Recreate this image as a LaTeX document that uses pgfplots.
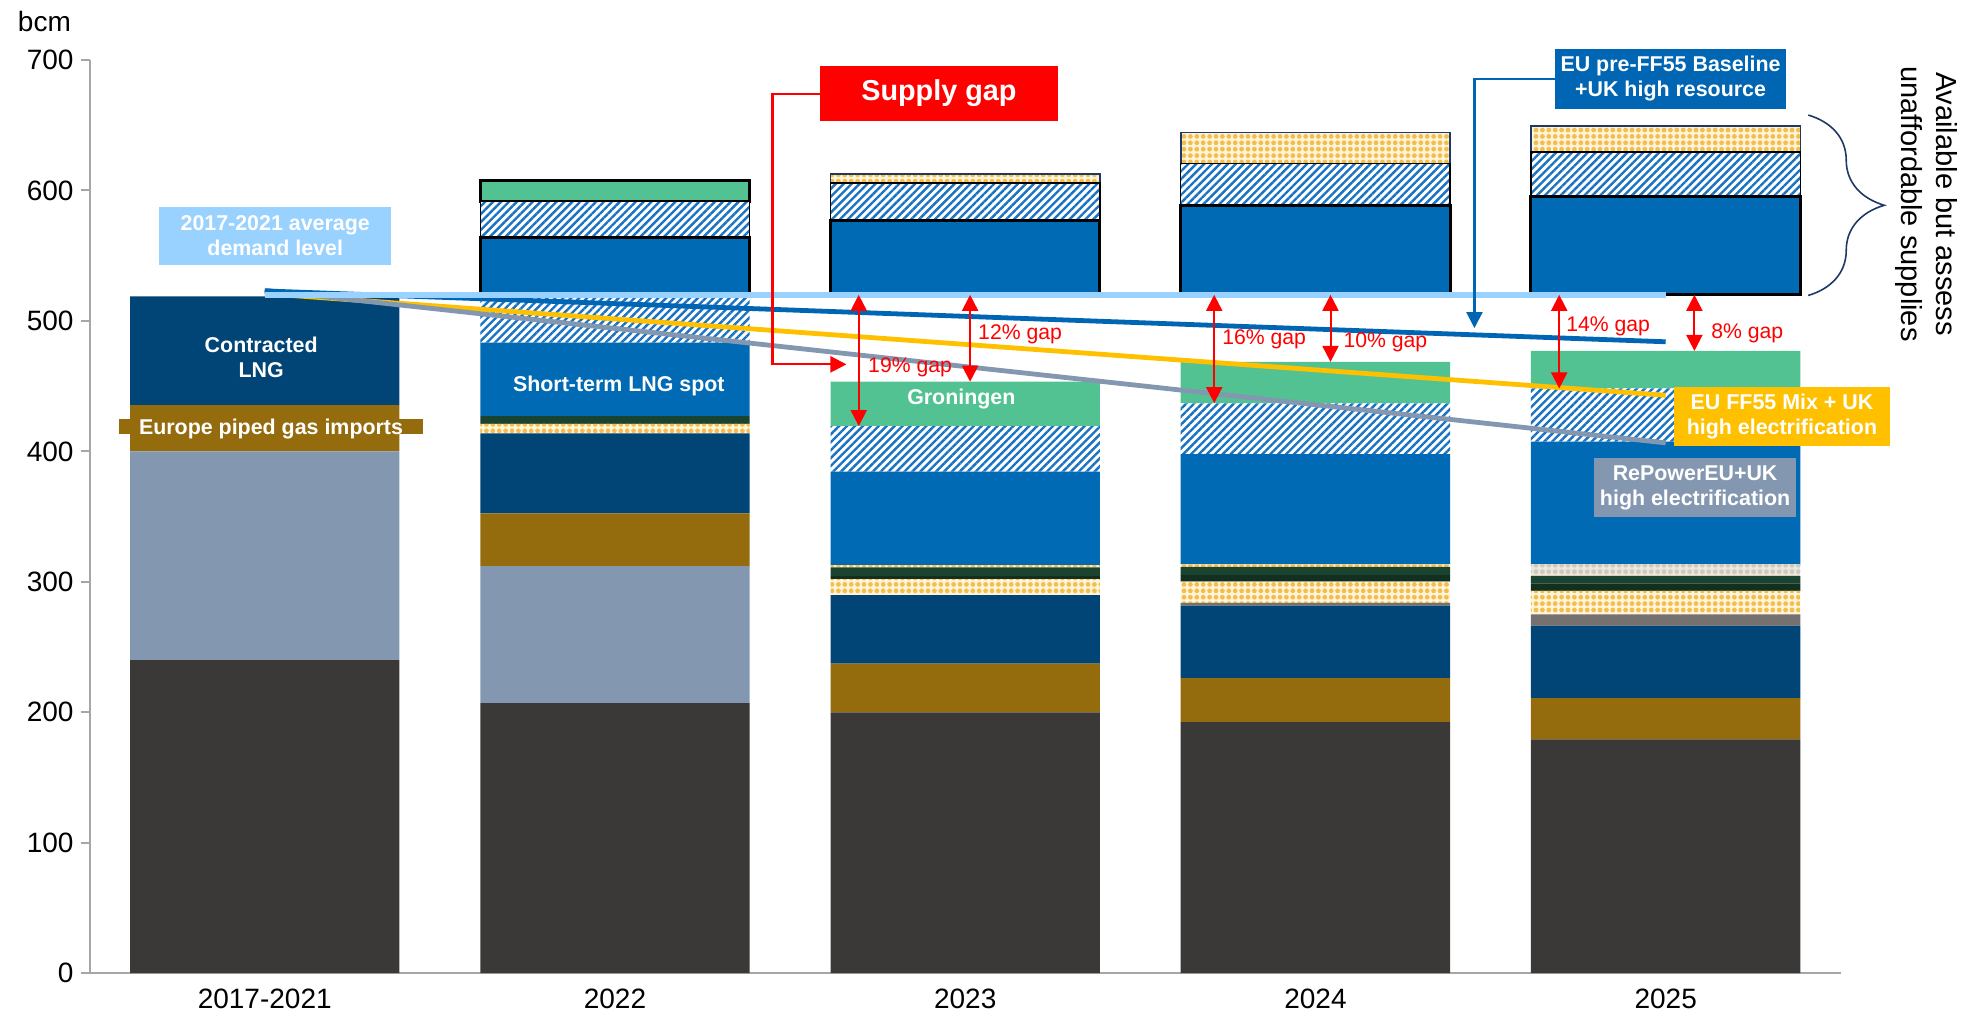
\documentclass[border=0pt]{standalone}
\usepackage{pgfplots}
\pgfplotsset{compat=1.18}
\usepackage{pgfplotstable}
\usepackage{fontspec}
\setmainfont{Liberation Sans}
\usetikzlibrary{patterns.meta,arrows.meta,decorations.pathreplacing}

\definecolor{cDark}{HTML}{3B3938}
\definecolor{cGrayBlue}{HTML}{8497B0}
\definecolor{cBrown}{HTML}{946C0E}
\definecolor{cNavy}{HTML}{004576}
\definecolor{cSpot}{HTML}{006AB4}
\definecolor{cGreenD}{HTML}{1A4430}
\definecolor{cGreenDD}{HTML}{123020}
\definecolor{cGron}{HTML}{52C292}
\definecolor{cGrey}{HTML}{767171}
\definecolor{cLight}{HTML}{99D1FF}
\definecolor{cBase}{HTML}{0066B3}
\definecolor{cYel}{HTML}{FFC000}
\definecolor{cHatch}{HTML}{1A73C2}
\definecolor{cChkBg}{HTML}{FFF4DA}
\definecolor{cChk}{HTML}{F2BE4E}
\definecolor{cChkGBg}{HTML}{EFE7D4}
\definecolor{cChkG}{HTML}{C9C9C9}
\definecolor{cBrace}{HTML}{1F3864}
\definecolor{cAxis}{HTML}{A6A6A6}

\newcommand\lbl{\fontsize{10.7}{12.5}\selectfont\bfseries}
\newcommand\gapf{\fontsize{10.6}{12}\selectfont}

\pgfplotsset{
  common/.style={at={(0,0)}, anchor=south west, scale only axis,
    width=875.6pt, height=456.6pt, xmin=-0.5, xmax=4.5, ymin=0, ymax=700,
    enlarge x limits=false, enlarge y limits=false},
  hatchs/.style={fill=white, draw=none, postaction={pattern={Lines[angle=45,distance=2.8pt,line width=1.2pt]}, pattern color=cHatch}},
  chks/.style={fill=cChkBg, draw=none, postaction={pattern={Dots[distance=3.2pt,radius=1.2pt]}, pattern color=cChk}},
  chkgs/.style={fill=cChkGBg, draw=none, postaction={pattern={Dots[distance=3.2pt,radius=1.2pt]}, pattern color=cChkG}},
}

\pgfplotstableread{
x dark gb brown navy grey chk gdd gd chka chkg spot hatch gron
0 240   160 35.5 83.3 0   0    0   0   0   0   0    0    0
1 207   105 40.4 61.4 0   7.2  0   6.0 0   0   56.3 36.7 0
2 200   0   37.4 52.4 0   12.2 2.4 6.6 1.8 0   71.6 35.0 34.0
3 192.5 0   33.6 55.6 2.2 16.3 4.9 6.3 2.0 0   84.5 38.9 31.8
4 179.3 0   31.5 55.7 8.6 18.0 5.7 5.8 0   8.8 94.0 40.8 28.8
}\lowerdata

\pgfplotstableread{
x spacer blue hatch yel green
1 520 44.0 27.4 0    16.6
2 520 57.3 28.5 6.8  0
3 520 68.3 32.5 23.5 0
4 520 75.2 34.4 20.0 0
}\upperdata

\pgfplotstableread{
x demand base ff55 repower
0 519.5 523 521 523.5
4 519.5 484 443 406.5
}\linedata

\begin{document}
\begin{tikzpicture}
\useasboundingbox (-44.8pt,-23.2pt) rectangle ++(982pt,509.8pt);

% lower stacks + axes
\begin{axis}[common, ybar stacked, bar width=134.7pt,
  xtick={0,1,2,3,4}, xticklabels={2017-2021,2022,2023,2024,2025},
  ytick={0,100,...,700},
  axis x line*=bottom, axis y line*=left,
  axis line style={draw=cAxis, line width=1pt},
  x tick style={draw=none}, y tick style={draw=cAxis, line width=1pt},
  tick align=outside, major tick length=4.5pt,
  ticklabel style={font=\fontsize{14}{16}\selectfont},
  /pgf/number format/assume math mode=true,
  clip=false]
\addplot[fill=cDark, draw=none] table[x=x,y=dark]{\lowerdata};
\addplot[fill=cGrayBlue, draw=none] table[x=x,y=gb]{\lowerdata};
\addplot[fill=cBrown, draw=none] table[x=x,y=brown]{\lowerdata};
\addplot[fill=cNavy, draw=none] table[x=x,y=navy]{\lowerdata};
\addplot[fill=cGrey, draw=none] table[x=x,y=grey]{\lowerdata};
\addplot[chks] table[x=x,y=chk]{\lowerdata};
\addplot[fill=cGreenDD, draw=none] table[x=x,y=gdd]{\lowerdata};
\addplot[fill=cGreenD, draw=none] table[x=x,y=gd]{\lowerdata};
\addplot[chks] table[x=x,y=chka]{\lowerdata};
\addplot[chkgs] table[x=x,y=chkg]{\lowerdata};
\addplot[fill=cSpot, draw=none] table[x=x,y=spot]{\lowerdata};
\addplot[hatchs] table[x=x,y=hatch]{\lowerdata};
\addplot[fill=cGron, draw=none] table[x=x,y=gron]{\lowerdata};
\end{axis}

% upper "available but unaffordable" boxes
\begin{axis}[common, hide axis, ybar stacked, bar width=134.7pt]
\addplot[fill=none, draw=none] table[x=x,y=spacer]{\upperdata};
\addplot[fill=cSpot, draw=black, line width=1.5pt] table[x=x,y=blue]{\upperdata};
\addplot[hatchs, draw=black, line width=0.7pt] table[x=x,y=hatch]{\upperdata};
\addplot[chks, draw=cBrace, line width=0.8pt] table[x=x,y=yel]{\upperdata};
\addplot[fill=cGron, draw=black, line width=1.5pt] table[x=x,y=green]{\upperdata};
\end{axis}

% lines and annotations
\begin{axis}[common, hide axis, clip=false]
\addplot[cYel, line width=2.4pt] table[x=x,y=ff55]{\linedata};
\addplot[cGrayBlue, line width=2.4pt] table[x=x,y=repower]{\linedata};
\addplot[cBase, line width=2.4pt] table[x=x,y=base]{\linedata};
\addplot[cLight, line width=3pt] table[x=x,y=demand]{\linedata};

% gap arrows
\tikzset{gaparr/.style={red, line width=1pt, {Triangle[width=8pt,length=8pt]}-{Triangle[width=8pt,length=8pt]}}}
\draw[gaparr] (1.696,520) -- (1.696,419.4);
\draw[gaparr] (2.014,520) -- (2.014,453.4);
\draw[gaparr] (2.711,520) -- (2.711,437);
\draw[gaparr] (3.043,520) -- (3.043,468.6);
\draw[gaparr] (3.696,520) -- (3.696,448.2);
\draw[gaparr] (4.082,520) -- (4.082,477);
\node[anchor=west, text=red, font=\gapf, inner sep=0pt] at (1.722,464.5) {19\% gap};
\node[anchor=west, text=red, font=\gapf, inner sep=0pt] at (2.036,489.5) {12\% gap};
\node[anchor=west, text=red, font=\gapf, inner sep=0pt] at (2.733,485.6) {16\% gap};
\node[anchor=west, text=red, font=\gapf, inner sep=0pt] at (3.079,483.7) {10\% gap};
\node[anchor=west, text=red, font=\gapf, inner sep=0pt] at (3.715,496.2) {14\% gap};
\node[anchor=west, text=red, font=\gapf, inner sep=0pt] at (4.129,490.4) {8\% gap};

% in-bar labels
\node[text=white, font=\lbl, align=center] at (-0.01,472.4) {Contracted\\LNG};
\node[fill=cBrown, minimum width=152.3pt, minimum height=7.3pt, inner sep=0pt] at (0.018,419) {};
\node[text=white, font=\lbl, anchor=base, inner sep=0pt] at (0.018,412.6) {Europe piped gas imports};
\node[text=white, font=\lbl] at (1.011,450.4) {Short-term LNG spot};
\node[text=white, font=\lbl] at (1.989,439.8) {Groningen};

% boxes
\node[fill=cLight, text=white, font=\lbl, align=center, minimum width=115.9pt, minimum height=29.4pt, inner sep=0pt] at (0.03,565.1) {2017-2021 average\\demand level};
\node[fill=red, text=white, font=\fontsize{14.4}{16}\selectfont\bfseries, minimum width=119pt, minimum height=27.6pt, inner sep=0pt] at (1.925,674.5) {Supply gap};
\draw[red, line width=1.1pt, -{Triangle[width=8pt,length=8pt]}] (1.586,674) -- (1.45,674) -- (1.45,466.7) -- (1.661,466.7);
\node[fill=cBase, text=white, font=\lbl, align=center, minimum width=115.2pt, minimum height=30pt, inner sep=0pt] at (4.014,685.6) {EU pre-FF55 Baseline\\+UK high resource};
\draw[cBase, line width=1.1pt, -{Triangle[width=8pt,length=8pt]}] (3.686,685.6) -- (3.454,685.6) -- (3.454,494.5);
\node[fill=cYel, text=white, font=\lbl, align=center, minimum width=107.7pt, minimum height=29.4pt, inner sep=0pt] at (4.332,426.8) {EU FF55 Mix + UK\\high electrification};
\node[fill=cGrayBlue, text=white, font=\lbl, align=center, minimum width=100.8pt, minimum height=29.4pt, inner sep=0pt] at (4.084,372.1) {RePowerEU+UK\\high electrification};

% brace and side text
\draw[cBrace, line width=0.8pt, decorate, decoration={brace, amplitude=38pt, aspect=0.5}] (4.407,657.8) -- (4.407,519.5);
\node[rotate=-90, align=center, font=\fontsize{14.5}{17.5}\selectfont] at (4.746,589.6) {Available but assess\\unaffordable supplies};

% unit
\node[font=\fontsize{14}{16}\selectfont] at (-0.629,729.8) {bcm};
\end{axis}
\end{tikzpicture}
\end{document}
